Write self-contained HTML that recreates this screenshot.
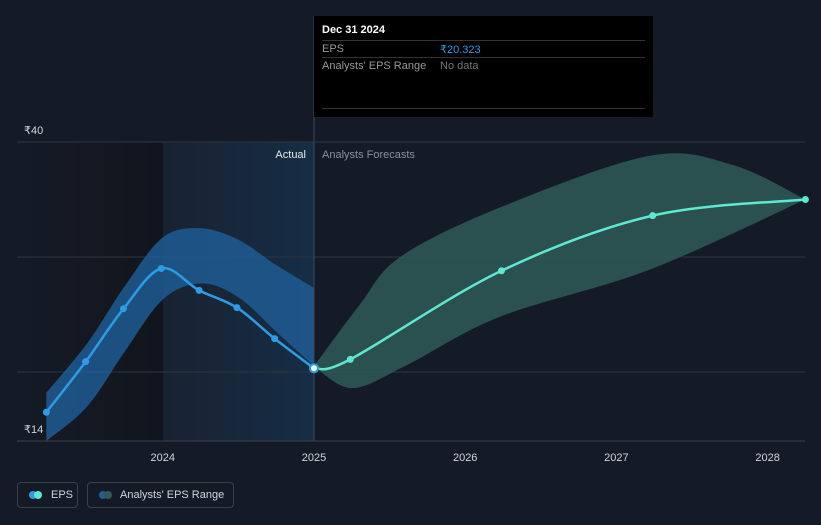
<!DOCTYPE html>
<html><head><meta charset="utf-8">
<style>
body{margin:0;background:#151b26;width:821px;height:520px;overflow:hidden;font-family:"Liberation Sans",sans-serif}
svg text{font-family:"Liberation Sans",sans-serif}
</style></head>
<body>
<svg id="c" width="821" height="520">
<defs>
<linearGradient id="pastg" x1="0" x2="1" y1="0" y2="0">
<stop offset="0" stop-color="#1b2a3d" stop-opacity="0.5"/><stop offset="1" stop-color="#15304a" stop-opacity="0.9"/>
</linearGradient>
<linearGradient id="leftg" x1="0" x2="1"><stop offset="0" stop-color="#151b26"/><stop offset="1" stop-color="#11151d"/></linearGradient>
</defs>
<g id="bg"></g><g id="grid"></g><g id="bands"></g><g id="lines"></g><g id="pts"></g><g id="axis"></g>
</svg>
<script>
const actualDates=[2023.23,2023.49,2023.74,2023.99,2024.24,2024.49,2024.74,2025.0];
const actualEps=[16.5,20.9,25.5,29.0,27.1,25.6,22.9,20.323];
const forecastDates=[2025.0,2025.24,2026.24,2027.24,2028.25];
const forecastEps=[20.323,21.1,28.8,33.6,35.0];
const pastRangeDates=[2023.23,2023.5,2023.75,2024.0,2024.25,2024.5,2024.75,2025.0];
const pastRangeHigh=[18.2,22.5,27.5,31.7,32.5,31.5,29.3,27.3];
const pastRangeLow=[14.0,17.0,21.8,26.3,27.7,26.5,23.5,20.5];
const fcUpperDates=[2025.0,2025.3,2025.57,2026.23,2027.22,2027.77,2028.25];
const fcRangeHigh=[20.5,25.8,30.0,34.3,38.8,38.0,35.0];
const fcLowerDates=[2025.0,2025.25,2025.6,2026.23,2027.22,2028.25];
const fcRangeLow=[20.5,18.6,20.5,24.8,28.9,35.0];
const yTicks=[14,40];
const xTicks=[2024,2025,2026,2027,2028];

const X=d=>314+(d-2025)*151.2;
const Y=v=>142+(40-v)*11.5;
const NS="http://www.w3.org/2000/svg";
function mk(p,t,a){const e=document.createElementNS(NS,t);for(const k in a)e.setAttribute(k,a[k]);document.getElementById(p).appendChild(e);return e;}
function smooth(xs,ys){let p=xs.map((x,i)=>[x,ys[i]]);let d=`M${p[0][0]},${p[0][1]}`;for(let i=0;i<p.length-1;i++){const p0=p[i-1]||p[i],p1=p[i],p2=p[i+1],p3=p[i+2]||p2;d+=` C${p1[0]+(p2[0]-p0[0])/6},${p1[1]+(p2[1]-p0[1])/6} ${p2[0]-(p3[0]-p1[0])/6},${p2[1]-(p3[1]-p1[1])/6} ${p2[0]},${p2[1]}`;}return d;}
function band(dh,hi,dl,lo){const up=smooth(dh.map(X),hi.map(Y));const rx=dl.map(X).reverse(),ry=lo.map(Y).reverse();const dn=smooth(rx,ry).replace('M','L');return up+dn+'Z';}

let e;
e=mk('bg','rect',{x:17,y:142,width:146,height:299,fill:'url(#leftg)'});
e=mk('bg','rect',{x:163,y:142,width:151,height:299,fill:'url(#pastg)'});
[20,30,40].forEach(v=>{e=mk('grid','line',{x1:17,x2:805,y1:Y(v),y2:Y(v),stroke:'#2e3541','stroke-width':1});});
e=mk('grid','line',{x1:17,x2:805,y1:441,y2:441,stroke:'#3a414c'});

e=mk('bands','path',{d:band(pastRangeDates,pastRangeHigh,pastRangeDates,pastRangeLow),fill:'#1f5f99',opacity:0.8});
e=mk('bands','path',{d:band(fcUpperDates,fcRangeHigh,fcLowerDates,fcRangeLow),fill:'#2e5a58',opacity:0.85});

e=mk('lines','line',{x1:314,x2:314,y1:16,y2:441,stroke:'#3a4a5e'});
e=mk('lines','path',{d:smooth(actualDates.map(X),actualEps.map(Y)),fill:'none',stroke:'#2d9be8','stroke-width':2.5});
e=mk('lines','path',{d:smooth(forecastDates.map(X),forecastEps.map(Y)),fill:'none',stroke:'#5ee8cf','stroke-width':2.5});
actualDates.forEach((d,i)=>{const last=i===actualDates.length-1;e=mk('pts','circle',{cx:X(d),cy:Y(actualEps[i]),r:last?4:3.5,fill:last?'#fff':'#2d9be8',stroke:last?'#2d9be8':'none','stroke-width':2});});
forecastDates.slice(1).forEach((d,i)=>{e=mk('pts','circle',{cx:X(d),cy:Y(forecastEps[i+1]),r:3.5,fill:'#5ee8cf'});});

yTicks.forEach(v=>{e=mk('axis','text',{x:24,y:Y(v)-8,fill:'#d0d4da','font-size':11});e.textContent='₹'+v;});
xTicks.forEach(v=>{e=mk('axis','text',{x:X(v),y:461,fill:'#d0d4da','font-size':11,'text-anchor':'middle'});e.textContent=v;});
e=mk('axis','text',{x:306,y:158,fill:'#e6e8eb','font-size':11,'text-anchor':'end'});e.textContent='Actual';
e=mk('axis','text',{x:322,y:158,fill:'#8a909a','font-size':11});e.textContent='Analysts Forecasts';
</script>
<div style="position:absolute;left:314px;top:16px;width:339px;height:101px;background:#000;font-size:11px">
<div style="position:absolute;left:8px;top:8px;color:#fff;font-weight:bold">Dec 31 2024</div>
<div style="position:absolute;left:8px;right:8px;top:24px;border-top:1px solid #333"></div>
<div style="position:absolute;left:8px;top:27px;color:#999">EPS</div>
<div style="position:absolute;left:126px;top:27px;color:#2d9be8">₹20.323</div>
<div style="position:absolute;left:8px;right:8px;top:41px;border-top:1px solid #333"></div>
<div style="position:absolute;left:8px;top:44px;color:#999">Analysts' EPS Range</div>
<div style="position:absolute;left:126px;top:44px;color:#777">No data</div>
<div style="position:absolute;left:8px;right:8px;top:92px;border-top:1px solid #333"></div>
</div>
<div style="position:absolute;left:17px;top:482px;width:61px;height:26px;border:1px solid #3a414c;border-radius:4px;box-sizing:border-box;font-size:11px;color:#d0d4da">
<span style="position:absolute;left:11px;top:8px;width:8px;height:8px;border-radius:50%;background:#2d9be8"></span>
<span style="position:absolute;left:16px;top:8px;width:8px;height:8px;border-radius:50%;background:#5ee8cf"></span>
<span style="position:absolute;left:33px;top:6px">EPS</span></div>
<div style="position:absolute;left:87px;top:482px;width:147px;height:26px;border:1px solid #3a414c;border-radius:4px;box-sizing:border-box;font-size:11px;color:#d0d4da">
<span style="position:absolute;left:11px;top:8px;width:8px;height:8px;border-radius:50%;background:#1f5f99"></span>
<span style="position:absolute;left:16px;top:8px;width:8px;height:8px;border-radius:50%;background:#2e5a58"></span>
<span style="position:absolute;left:32px;top:6px">Analysts' EPS Range</span></div>
</body></html>
